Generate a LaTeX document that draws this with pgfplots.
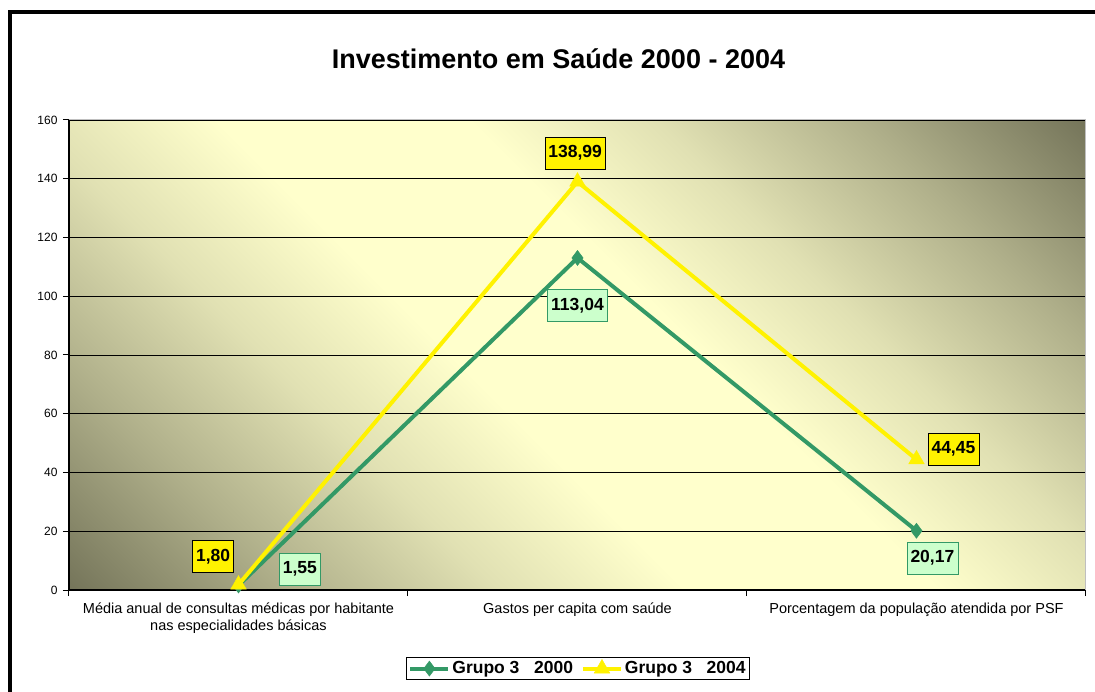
\documentclass[border=0pt]{standalone}
\usepackage{pgfplots}
\pgfplotsset{compat=1.18}
\usepackage{fontspec}
\setmainfont{Liberation Sans}
\definecolor{bgdark}{RGB}{117,117,90}
\definecolor{bglight}{RGB}{255,255,204}
\colorlet{bgm1}{bglight!42!bgdark}
\colorlet{bgm2}{bglight!78!bgdark}
\definecolor{grn}{RGB}{51,153,102}
\definecolor{lblgreen}{RGB}{204,255,204}
\pgfdeclarehorizontalshading{diagbg}{100bp}{color(0bp)=(bgdark); color(14.6bp)=(bgdark); color(25bp)=(bgm1); color(35bp)=(bgm2); color(44bp)=(bglight); color(56bp)=(bglight); color(65bp)=(bgm2); color(75bp)=(bgm1); color(85.4bp)=(bgdark); color(100bp)=(bgdark)}
\tikzset{
  lbly/.style={draw=black, line width=0.6pt, fill=yellow, font=\bfseries\fontsize{17.5}{20}\selectfont, inner xsep=3.5pt, minimum height=32pt},
  lblg/.style={draw=grn, line width=0.6pt, fill=lblgreen, font=\bfseries\fontsize{17.5}{20}\selectfont, inner xsep=3.5pt, minimum height=32pt},
}
\begin{document}
\begin{tikzpicture}
\path[use as bounding box] (0pt,0pt) rectangle (1095pt,691pt);
\draw[line width=4pt] (10pt,-5pt) -- (10pt,678.5pt) -- (1100pt,678.5pt);
\node[anchor=base, font=\bfseries\fontsize{27}{30}\selectfont] at (558.5pt,622pt) {Investimento em Saúde 2000 - 2004};
\begin{axis}[
  at={(69pt,101pt)}, anchor=south west,
  scale only axis, width=1017pt, height=470pt,
  xmin=-0.5, xmax=2.5, ymin=0, ymax=160,
  clip=false,
  axis background/.style={shade, shading=diagbg, shading angle=45},
  axis lines*=left,
  axis line style={black, line width=1.2pt},
  ytick={0,20,...,160},
  xtick={-0.5,0.5,1.5,2.5}, xticklabels={},
  extra x ticks={0,1,2},
  extra x tick labels={{Média anual de consultas médicas por habitante\\nas especialidades básicas},{Gastos per capita com saúde},{Porcentagem da população atendida por PSF}},
  extra x tick style={major tick length=0pt, grid=none},
  tick align=outside, major tick length=6pt,
  tick style={black, line width=1pt},
  ymajorgrids, grid style={black, line width=0.9pt},
  /pgf/number format/assume math mode=true,
  yticklabel style={font=\fontsize{12}{14}\selectfont, xshift=-2pt},
  xticklabel style={font=\fontsize{14.5}{17}\selectfont, align=center, yshift=-9pt},
  legend style={at={(0.5005,-0.167)}, anchor=center, legend columns=2, draw=black, line width=0.8pt, fill=white,
    font=\bfseries\fontsize{17.5}{20}\selectfont, inner sep=2pt,
    /tikz/every even column/.append style={column sep=6pt}},
  legend image code/.code={\draw[#1, mark repeat=2, mark phase=2] plot coordinates {(0pt,0pt) (19pt,0pt) (38pt,0pt)};},
]
\addplot[grn, line width=4pt, mark=diamond*, mark size=7.5pt, mark options={solid, fill=grn, draw=grn, line width=0.5pt}] coordinates {(0,1.55) (1,113.04) (2,20.17)};
\addlegendentry{Grupo 3~~~2000}
\addplot[yellow, line width=4pt, mark=triangle*, mark size=9pt, mark options={solid, fill=yellow, draw=yellow, line width=0.5pt}] coordinates {(0,1.80) (1,138.99) (2,44.45)};
\addlegendentry{Grupo 3~~~2004}
\draw[black!25, line width=1pt] (rel axis cs:0,1) -- (rel axis cs:1,1) -- (rel axis cs:1,0);
\node[lbly] at (axis cs:-0.075,11.40) {1,80};
\node[lblg] at (axis cs:0.181,7.15) {1,55};
\node[lbly] at (axis cs:0.993,148.77) {138,99};
\node[lblg] at (axis cs:1.0,96.85) {113,04};
\node[lbly] at (axis cs:2.109,48.0) {44,45};
\node[lblg] at (axis cs:2.047,10.89) {20,17};
\end{axis}
\end{tikzpicture}
\end{document}
